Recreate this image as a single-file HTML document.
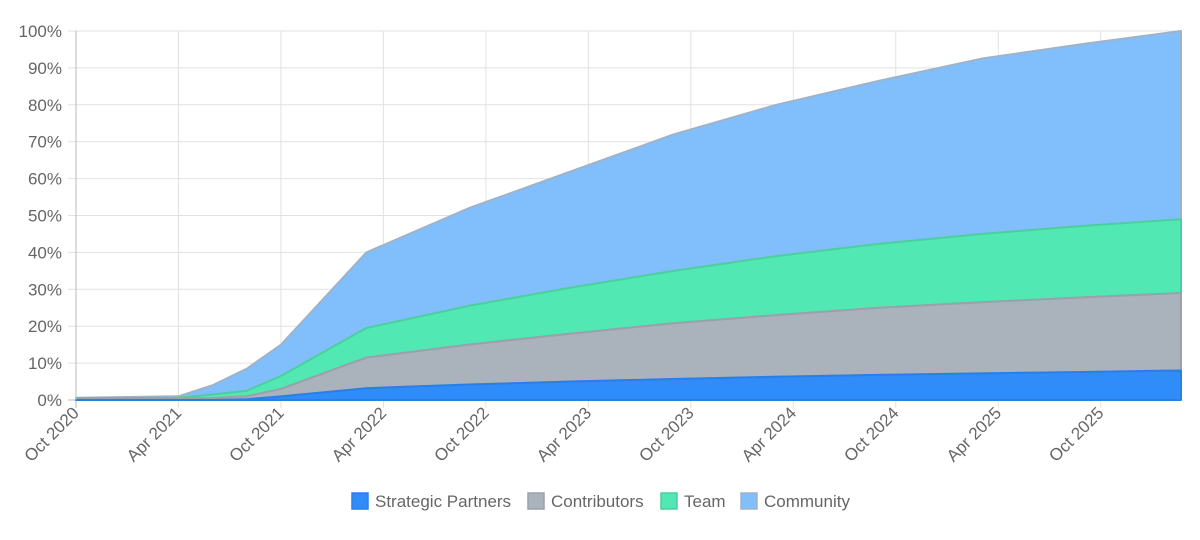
<!DOCTYPE html>
<html><head><meta charset="utf-8"><style>
body{margin:0;background:#fff;font-family:"Liberation Sans",Arial,sans-serif}
svg text{font-family:"Liberation Sans",Arial,sans-serif;fill:#666}
</style></head><body>
<svg id="chart" width="1200" height="535" xmlns="http://www.w3.org/2000/svg"></svg>
<script>
const months = [0,6,8,10,12,17,23,29,35,41,47,53,59,64.7];
const strategicPartners = [0,0,0,0.2,1,3.2,4.2,5,5.7,6.3,6.8,7.2,7.6,8];
const contributors = [0.3,0.4,0.5,0.8,2,8.3,10.8,13,15.1,16.7,18.2,19.3,20.2,21];
const team = [0.2,0.2,1,1.5,3.5,8,10.5,12.5,14.2,16,17.3,18.5,19.4,20];
const community = [0.1,0.4,2.5,6,8.5,20.5,26.5,31.5,37,41,44.2,47.5,49.3,51];
const xTickLabels = ["Oct 2020","Apr 2021","Oct 2021","Apr 2022","Oct 2022","Apr 2023","Oct 2023","Apr 2024","Oct 2024","Apr 2025","Oct 2025"];
const yTickLabels = ["0%","10%","20%","30%","40%","50%","60%","70%","80%","90%","100%"];
const seriesNames = ["Strategic Partners","Contributors","Team","Community"];

const NS="http://www.w3.org/2000/svg";
const svg=document.getElementById('chart');
const L=76,R=1181,T=31,B=400,XMAX=64.7;
const x=m=>L+(R-L)*m/XMAX;
const y=v=>B-(B-T)*v/100;
function el(tag,attrs,parent){const e=document.createElementNS(NS,tag);for(const k in attrs)e.setAttribute(k,attrs[k]);(parent||svg).appendChild(e);return e;}

const grid=el('g',{});


yTickLabels.forEach((lab,i)=>{
  const yy=y(i*10);
  el('line',{x1:L-8,x2:R,y1:yy,y2:yy,stroke:i===0?'#bbb':'#e2e2e2','stroke-width':1},grid);
  const t=el('text',{x:L-14,y:yy+6,'text-anchor':'end','font-size':17});
  t.textContent=lab;
  
  
});
xTickLabels.forEach((lab,i)=>{
  const xx=x(i*6);
  el('line',{x1:xx,x2:xx,y1:T,y2:B+8,stroke:i===0?'#bbb':'#e2e2e2','stroke-width':1},grid);
  const t=el('text',{x:xx+4,y:B+14,'text-anchor':'end','font-size':17,transform:`rotate(-45 ${xx+4} ${B+14})`});
  t.textContent=lab;
  
  
});
el('line',{x1:R,x2:R,y1:T,y2:B,stroke:'#e2e2e2'},grid);

const series=[strategicPartners,contributors,team,community];
const fills=['#2f8cf9','#aab2bb','#52e8b3','#80bffb'];
const strokes=['#2a7fe6','#9aa1aa','#4bcf9f','#9fb3c8'];
const names=['area-strategic-partners','area-contributors','area-team','area-community'];
let base=months.map(()=>0);
const areas=[];
series.forEach((s,si)=>{
  const top=base.map((b,i)=>b+s[i]);
  let d='M'+months.map((m,i)=>x(m)+','+y(top[i])).join(' L');
  for(let i=months.length-1;i>=0;i--) d+=' L'+x(months[i])+','+y(base[i]);
  d+='Z';
  areas.push({d,top:top.slice(),si});
  base=top;
});
areas.reverse().forEach(a=>{
  const p=el('path',{d:a.d,fill:fills[a.si],stroke:strokes[a.si],'stroke-width':2,'stroke-linejoin':'round'});
  
  
});
el('line',{x1:L,x2:L,y1:T,y2:B,stroke:'#bbb'});

const legend=el('g',{});


const lx=[352,528,661,741];
seriesNames.forEach((n,i)=>{
  const g=el('g',{},legend);
  
  
  el('rect',{x:lx[i],y:493,width:16,height:16,fill:fills[i],stroke:strokes[i],'stroke-width':1.5},g);
  const t=el('text',{x:lx[i]+23,y:507,'font-size':17},g);
  t.textContent=n;
});
</script>
</body></html>
